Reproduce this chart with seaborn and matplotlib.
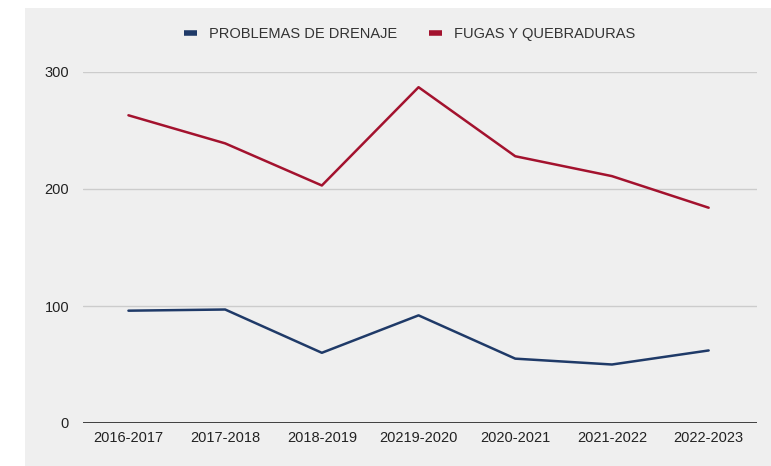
import numpy as np
import pandas as pd
import seaborn as sns
import matplotlib.pyplot as plt
from matplotlib.patches import Rectangle

# Datos
periodos = ['2016-2017', '2017-2018', '2018-2019', '20219-2020', '2020-2021', '2021-2022', '2022-2023']
drenaje = [96, 97, 60, 92, 55, 50, 62]
fugas = [263, 239, 203, 287, 228, 211, 184]

series = ['PROBLEMAS DE DRENAJE', 'FUGAS Y QUEBRADURAS']
colores = ['#1f3a68', '#a3122e']

df = pd.DataFrame({
    'periodo': periodos * 2,
    'valor': drenaje + fugas,
    'serie': [series[0]] * len(periodos) + [series[1]] * len(periodos),
})
df['x'] = list(range(len(periodos))) * 2

sns.set_style('white')
plt.rcParams['font.family'] = ['Liberation Sans', 'DejaVu Sans']

fondo = '#efefef'
fig = plt.figure(figsize=(7.71, 4.66), dpi=100)
fig.patch.set_facecolor('white')
fig.patches.append(Rectangle((25 / 771, 0), 1 - 25 / 771, 1 - 8 / 466,
                             transform=fig.transFigure, facecolor=fondo,
                             edgecolor='none', zorder=-10))

ax = fig.add_axes([83 / 771, 1 - 423 / 466, (757 - 83) / 771, (423 - 72) / 466])
ax.set_facecolor(fondo)

sns.lineplot(data=df, x='x', y='valor', hue='serie', palette=colores,
             hue_order=series, linewidth=1.8, ax=ax)

ax.set_xlim(-0.47, 6.5)
ax.set_ylim(0, 300)
ax.set_yticks([0, 100, 200, 300])
ax.set_xticks(range(len(periodos)))
ax.set_xticklabels(periodos)
ax.tick_params(axis='both', length=0, labelsize=10.5, colors='#222222')
ax.tick_params(axis='y', pad=10)
ax.tick_params(axis='x', pad=6)
ax.grid(axis='y', color='#cccccc', linewidth=1)
ax.set_axisbelow(True)
ax.axhline(0, color='#222222', linewidth=1.2, zorder=1)
for s in ax.spines.values():
    s.set_visible(False)
ax.set_xlabel('')
ax.set_ylabel('')

leg = ax.legend(loc='lower center', bbox_to_anchor=(0.485, 1.05), ncol=2,
                frameon=False, fontsize=10.5, handlelength=0.9,
                columnspacing=2.2, handletextpad=0.8)
for line in leg.get_lines():
    line.set_linewidth(4)
    line.set_solid_capstyle('butt')
for t in leg.get_texts():
    t.set_color('#333333')

fig.savefig('out.png', dpi=100)
